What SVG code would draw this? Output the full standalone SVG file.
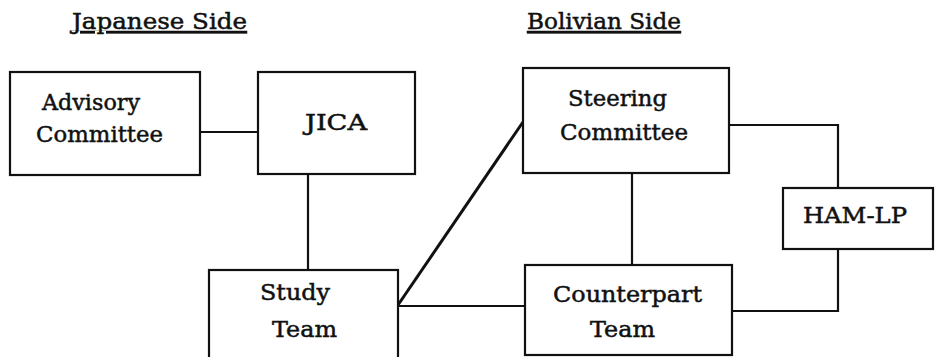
<svg xmlns="http://www.w3.org/2000/svg" width="935" height="357" viewBox="0 0 935 357">
<style>
.box{fill:#fff;stroke:#111;stroke-width:2.2}
.ln{fill:none;stroke:#111;stroke-width:2.2}
text{font-family:'DejaVu Serif','Liberation Serif',serif;font-size:23px;fill:#111;stroke:#111;stroke-width:0.5}
.h{text-decoration:underline}
</style>
<rect width="935" height="357" fill="#fff"/>
<text class="h" x="72" y="29" textLength="175" lengthAdjust="spacingAndGlyphs">Japanese Side</text>
<text class="h" x="527" y="29" textLength="154" lengthAdjust="spacingAndGlyphs">Bolivian Side</text>
<g id="connectors">
<line class="ln" x1="200" y1="132" x2="258" y2="132"/>
<line class="ln" x1="308" y1="174" x2="308" y2="270"/>
<line class="ln" x1="523" y1="122" x2="398" y2="305" style="stroke-width:3"/>
<line class="ln" x1="398" y1="306" x2="525" y2="306"/>
<line class="ln" x1="632" y1="173" x2="632" y2="265"/>
<polyline class="ln" points="729,125 838,125 838,188"/>
<polyline class="ln" points="838,249 838,311 732,311"/>
</g>
<g id="advisory">
<rect class="box" x="10" y="72" width="190" height="103"/>
<text x="42" y="110" textLength="98" lengthAdjust="spacingAndGlyphs">Advisory</text>
<text x="36" y="142" textLength="127" lengthAdjust="spacingAndGlyphs">Committee</text>
</g>
<g id="jica">
<rect class="box" x="258" y="72" width="157" height="102"/>
<text x="305" y="130" textLength="62" lengthAdjust="spacingAndGlyphs">JICA</text>
</g>
<g id="steering">
<rect class="box" x="523" y="68" width="206" height="105"/>
<text x="568" y="106" textLength="99" lengthAdjust="spacingAndGlyphs">Steering</text>
<text x="560" y="140" textLength="128" lengthAdjust="spacingAndGlyphs">Committee</text>
</g>
<g id="hamlp">
<rect class="box" x="783" y="188" width="150" height="61"/>
<text x="803" y="223" textLength="104" lengthAdjust="spacingAndGlyphs">HAM-LP</text>
</g>
<g id="study">
<rect class="box" x="209" y="270" width="189" height="100"/>
<text x="260" y="300" textLength="70" lengthAdjust="spacingAndGlyphs">Study</text>
<text x="272" y="337" textLength="65" lengthAdjust="spacingAndGlyphs">Team</text>
</g>
<g id="counterpart">
<rect class="box" x="525" y="265" width="207" height="90"/>
<text x="553" y="302" textLength="149" lengthAdjust="spacingAndGlyphs">Counterpart</text>
<text x="590" y="337" textLength="65" lengthAdjust="spacingAndGlyphs">Team</text>
</g>
</svg>
